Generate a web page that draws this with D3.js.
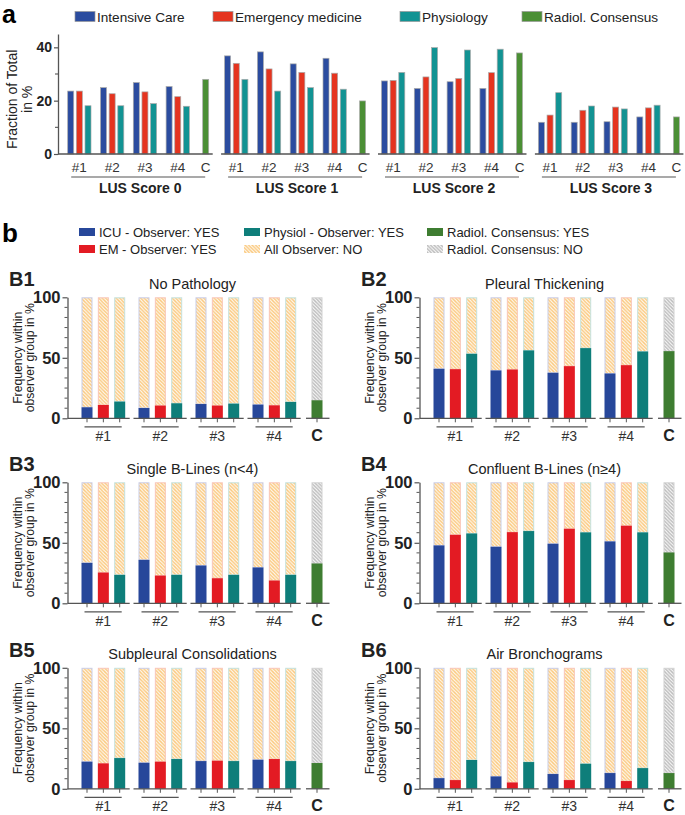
<!DOCTYPE html>
<html><head><meta charset="utf-8">
<script src="https://cdn.jsdelivr.net/npm/d3@7"></script>
<style>
body{margin:0;background:#fff}
svg{display:block;font-family:"Liberation Sans",Arial,Helvetica,sans-serif}
</style>
</head><body>
<svg id="chart" width="685" height="815"></svg>
<script>
// ---------------- DATA ----------------
const scores = ["LUS Score 0", "LUS Score 1", "LUS Score 2", "LUS Score 3"];
const observers = ["#1", "#2", "#3", "#4"];
const seriesA = ["Intensive Care", "Emergency medicine", "Physiology", "Radiol. Consensus"];
// panel a: [score][observer]
const icuA  = [[23.6, 24.9, 26.8, 25.3], [36.8, 38.3, 33.8, 35.9], [27.4, 24.6, 27.1, 24.6], [11.9, 11.9, 12.1, 13.9]];
const emA   = [[23.6, 22.6, 23.3, 21.5], [34.0, 31.9, 30.6, 30.3], [27.6, 28.9, 28.3, 30.5], [14.6, 16.4, 17.6, 17.3]];
const physA = [[18.1, 18.1, 18.9, 17.9], [28.0, 23.6, 24.9, 24.3], [30.6, 39.9, 39.0, 39.3], [23.0, 18.0, 16.9, 18.3]];
const consA = [28.0, 19.9, 37.9, 13.9];
const yTicksA = [0, 20, 40];

// panel b
const panelIds = ["B1", "B2", "B3", "B4", "B5", "B6"];
const panelTitles = ["No Pathology", "Pleural Thickening", "Single B-Lines (n<4)", "Confluent B-Lines (n\u22654)", "Subpleural Consolidations", "Air Bronchograms"];
const legendB = ["ICU - Observer: YES", "Physiol - Observer: YES", "Radiol. Consensus: YES", "EM - Observer: YES", "All Observer: NO", "Radiol. Consensus: NO"];
// [panel][observer]
const icuB  = [[9.1, 8.5, 11.8, 11.3], [40.9, 39.5, 37.6, 37.0], [33.4, 35.9, 31.2, 29.6], [47.8, 46.7, 49.2, 51.1], [22.4, 21.5, 22.9, 24.0], [8.8, 10.2, 12.2, 13.0]];
const emB   = [[11.0, 10.5, 10.5, 10.7], [40.6, 40.3, 43.1, 43.9], [25.4, 22.9, 20.7, 18.8], [56.6, 58.8, 61.6, 64.1], [21.0, 22.4, 23.2, 24.6], [7.2, 5.2, 7.2, 6.4]];
const physB = [[13.8, 12.4, 12.1, 13.5], [53.3, 56.1, 58.0, 55.2], [23.5, 23.5, 23.5, 23.5], [57.7, 59.7, 58.6, 58.6], [25.4, 24.6, 22.9, 22.9], [23.8, 22.1, 20.7, 17.1]];
const consB = [14.9, 55.5, 32.9, 42.0, 21.3, 13.0];
const yTicksB = [0, 50, 100];

// ---------------- STYLE ----------------
const colA = ["#2b4c9f", "#e5341f", "#129393", "#4b8f35"];
const colB = {icu: "#27479a", em: "#e31b23", phys: "#0e7e7a", cons: "#3e7d31"};
const tintB = {icu: "#c8cde8", em: "#f8c6b8", phys: "#c4e2de", cons: "#d2d2d2"};
const axisCol = "#555";

const svg = d3.select("#chart");
const defs = svg.append("defs");
function hatch(id, color) {
  const p = defs.append("pattern").attr("id", id).attr("patternUnits", "userSpaceOnUse")
    .attr("width", 3.5).attr("height", 3.5);
  p.append("rect").attr("width", 3.5).attr("height", 3.5).attr("fill", "#fff");
  p.append("path").attr("d", "M-1,-1L4.5,4.5M2.5,-1L4.5,1M-1,2.5L1,4.5")
    .attr("stroke", color).attr("stroke-width", 1.4);
}
hatch("hOrange", "#fbc97e");
hatch("hGrey", "#bcbcbc");

function styleAxis(sel) {
  sel.select(".domain").attr("stroke", axisCol).attr("stroke-width", 1.3);
  sel.selectAll(".tick line").attr("stroke", axisCol).attr("stroke-width", 1.2);
  sel.selectAll(".tick text").attr("fill", "#222").attr("font-weight", "bold")
    .attr("font-family", "Liberation Sans, Arial, sans-serif");
}

// ---------------- PANEL a ----------------
svg.append("text").attr("x", 2).attr("y", 22.6).attr("font-size", 25).attr("font-weight", "bold").text("a");

const legAx = [75, 213, 400, 522];
seriesA.forEach((s, i) => {
  svg.append("rect").attr("x", legAx[i]).attr("y", 11.5).attr("width", 20).attr("height", 10)
    .attr("fill", colA[i]).attr("stroke", "#999").attr("stroke-width", 0.7);
  svg.append("text").attr("x", legAx[i] + 22).attr("y", 21.5).attr("font-size", 13.6).attr("fill", "#222").text(s);
});

const yA = d3.scaleLinear().domain([0, 45]).range([154, 34]);
const axA = svg.append("g").attr("transform", "translate(58,0)")
  .call(d3.axisLeft(yA).tickValues(yTicksA).tickSize(4).tickSizeOuter(0).tickPadding(2))
  .call(styleAxis);
axA.selectAll(".tick text").attr("font-size", 14);
[10, 30].forEach(v => svg.append("line").attr("x1", 55).attr("x2", 58).attr("y1", yA(v)).attr("y2", yA(v))
  .attr("stroke", axisCol).attr("stroke-width", 1.1));

svg.append("text").attr("transform", `translate(16.5,${yA(20.5)}) rotate(-90)`).attr("text-anchor", "middle")
  .attr("font-size", 14).attr("fill", "#222").text("Fraction of Total");
svg.append("text").attr("transform", `translate(31.5,${yA(20.5)}) rotate(-90)`).attr("text-anchor", "middle")
  .attr("font-size", 14).attr("fill", "#222").text("in %");

const gxA = d3.scaleBand().domain(scores).range([67.7, 695.3]);
const obsA = d3.scaleBand().domain(observers).range([0, 131.2]);
const serA = d3.scaleBand().domain(seriesA.slice(0, 3)).range([0, 23.3]).paddingInner(0.306);
const cOffA = 135, bwA = serA.bandwidth();
const valsA = [icuA, emA, physA];

scores.forEach((sc, gi) => {
  const gx = gxA(sc);
  const g = svg.append("g");
  observers.forEach((ob, oi) => {
    seriesA.slice(0, 3).forEach((se, si) => {
      const v = valsA[si][gi][oi];
      g.append("rect").attr("x", gx + obsA(ob) + serA(se)).attr("y", yA(v))
        .attr("width", bwA).attr("height", yA(0) - yA(v))
        .attr("fill", colA[si]).attr("stroke", "#aaa").attr("stroke-width", 0.7);
    });
    g.append("text").attr("x", gx + obsA(ob) + serA(seriesA[1]) + bwA / 2).attr("y", yA(0) + 17.5)
      .attr("text-anchor", "middle").attr("font-size", 13.5).attr("fill", "#333").text(ob);
  });
  const v = consA[gi];
  g.append("rect").attr("x", gx + cOffA).attr("y", yA(v)).attr("width", bwA).attr("height", yA(0) - yA(v))
    .attr("fill", colA[3]).attr("stroke", "#aaa").attr("stroke-width", 0.7);
  g.append("text").attr("x", gx + cOffA + bwA / 2).attr("y", yA(0) + 17.5)
    .attr("text-anchor", "middle").attr("font-size", 13.5).attr("fill", "#333").text("C");
  const xs = gi === 0 ? 58 : gx - 3.5;
  g.append("line").attr("x1", xs).attr("x2", gx + cOffA + bwA + 4).attr("y1", yA(0)).attr("y2", yA(0))
    .attr("stroke", axisCol).attr("stroke-width", 1.3);
  g.append("line").attr("x1", gx + 3.5).attr("x2", gx + cOffA + bwA - 3.5).attr("y1", 177).attr("y2", 177)
    .attr("stroke", axisCol).attr("stroke-width", 1.2);
  g.append("text").attr("x", gx + (cOffA + bwA) / 2 + 2).attr("y", 193).attr("text-anchor", "middle")
    .attr("font-size", 14).attr("font-weight", "bold").attr("fill", "#222").text(sc);
});

// ---------------- PANEL b ----------------
svg.append("text").attr("x", 2).attr("y", 242).attr("font-size", 26).attr("font-weight", "bold").text("b");

const legBx = [79, 244, 427], legBy = [232, 249];
const legFill = [colB.icu, colB.phys, colB.cons, colB.em, "url(#hOrange)", "url(#hGrey)"];
legendB.forEach((t, i) => {
  const c = i % 3, r = Math.floor(i / 3);
  svg.append("rect").attr("x", legBx[c]).attr("y", legBy[r] - 4).attr("width", 16).attr("height", 8)
    .attr("fill", legFill[i]);
  svg.append("text").attr("x", legBx[c] + 20).attr("y", legBy[r] + 4.6).attr("font-size", 13)
    .attr("fill", "#222").text(t);
});

const colX = [67.5, 419.5], rowY = [297.3, 482.3, 667.8], plotH = 121;
const obsB = d3.scaleBand().domain(observers).range([0, 228]);
const serKeys = ["icu", "em", "phys"];
const serB = d3.scaleBand().domain(serKeys).range([0, 43.7]).paddingInner(0.327);
const bwB = serB.bandwidth();
const cOffB = 230;
const valsB = {icu: icuB, em: emB, phys: physB};

panelIds.forEach((pid, pi) => {
  const x0 = colX[pi % 2], yTop = rowY[Math.floor(pi / 2)], y0 = yTop + plotH;
  const bx = x0 + 14;
  const y = d3.scaleLinear().domain([0, 100]).range([y0, yTop]);
  const g = svg.append("g");

  g.append("text").attr("x", pi % 2 === 0 ? 9 : 361).attr("y", yTop - 11).attr("font-size", 20)
    .attr("font-weight", "bold").attr("fill", "#222").text(pid);
  g.append("text").attr("x", x0 + 125).attr("y", yTop - 8.5).attr("text-anchor", "middle")
    .attr("font-size", 14.5).attr("fill", "#222").text(panelTitles[pi]);

  const ax = g.append("g").attr("transform", `translate(${x0},0)`)
    .call(d3.axisLeft(y).tickValues(yTicksB).tickSize(5).tickSizeOuter(0).tickPadding(2))
    .call(styleAxis);
  ax.selectAll(".tick text").attr("font-size", 16.5);
  d3.range(1, 12).filter(k => k !== 6).forEach(k => {
    const v = k * 100 / 12;
    g.append("line").attr("x1", x0 - 3).attr("x2", x0).attr("y1", y(v)).attr("y2", y(v))
      .attr("stroke", axisCol).attr("stroke-width", 1);
  });

  g.append("text").attr("transform", `translate(${x0 - 45.5},${y(50)}) rotate(-90)`).attr("text-anchor", "middle")
    .attr("font-size", 12.2).attr("fill", "#222").text("Frequency within");
  g.append("text").attr("transform", `translate(${x0 - 34},${y(50)}) rotate(-90)`).attr("text-anchor", "middle")
    .attr("font-size", 12.2).attr("fill", "#222").text("observer group in %");

  observers.forEach((ob, oi) => {
    const tx = bx + obsB(ob);
    serKeys.forEach(sk => {
      const v = valsB[sk][pi][oi];
      const x = tx + serB(sk);
      g.append("rect").attr("x", x + 0.5).attr("y", y(100) + 0.5).attr("width", bwB - 1).attr("height", y(v) - y(100) - 0.5)
        .attr("fill", "url(#hOrange)").attr("stroke", tintB[sk]).attr("stroke-width", 1);
      g.append("rect").attr("x", x).attr("y", y(v)).attr("width", bwB).attr("height", y(0) - y(v))
        .attr("fill", colB[sk]);
      g.append("line").attr("x1", x + bwB / 2).attr("x2", x + bwB / 2).attr("y1", y0).attr("y2", y0 + 4)
        .attr("stroke", axisCol).attr("stroke-width", 1);
    });
    const segStart = oi === 0 ? x0 : tx - 5;
    g.append("line").attr("x1", segStart).attr("x2", tx + 43.7 + 4.5).attr("y1", y0).attr("y2", y0)
      .attr("stroke", axisCol).attr("stroke-width", 1.3);
    const c1 = tx + serB("icu") + bwB / 2, c3 = tx + serB("phys") + bwB / 2;
    g.append("line").attr("x1", c1 - 2.5).attr("x2", c3 + 2).attr("y1", y0 + 8.5).attr("y2", y0 + 8.5)
      .attr("stroke", axisCol).attr("stroke-width", 1.2);
    g.append("text").attr("x", tx + 43.7 / 2).attr("y", y0 + 22.5).attr("text-anchor", "middle")
      .attr("font-size", 14).attr("fill", "#333").text(ob);
  });

  const cx = bx + cOffB, cv = consB[pi];
  g.append("rect").attr("x", cx + 0.5).attr("y", y(100) + 0.5).attr("width", bwB - 1).attr("height", y(cv) - y(100) - 0.5)
    .attr("fill", "url(#hGrey)").attr("stroke", tintB.cons).attr("stroke-width", 1);
  g.append("rect").attr("x", cx).attr("y", y(cv)).attr("width", bwB).attr("height", y(0) - y(cv)).attr("fill", colB.cons);
  g.append("line").attr("x1", cx + bwB / 2).attr("x2", cx + bwB / 2).attr("y1", y0).attr("y2", y0 + 4)
    .attr("stroke", axisCol).attr("stroke-width", 1);
  g.append("line").attr("x1", cx - 5.5).attr("x2", cx + bwB + 7).attr("y1", y0).attr("y2", y0)
    .attr("stroke", axisCol).attr("stroke-width", 1.3);
  g.append("text").attr("x", cx + bwB / 2).attr("y", y0 + 22.5).attr("text-anchor", "middle")
    .attr("font-size", 16).attr("font-weight", "bold").attr("fill", "#222").text("C");
});
</script>
</body></html>
